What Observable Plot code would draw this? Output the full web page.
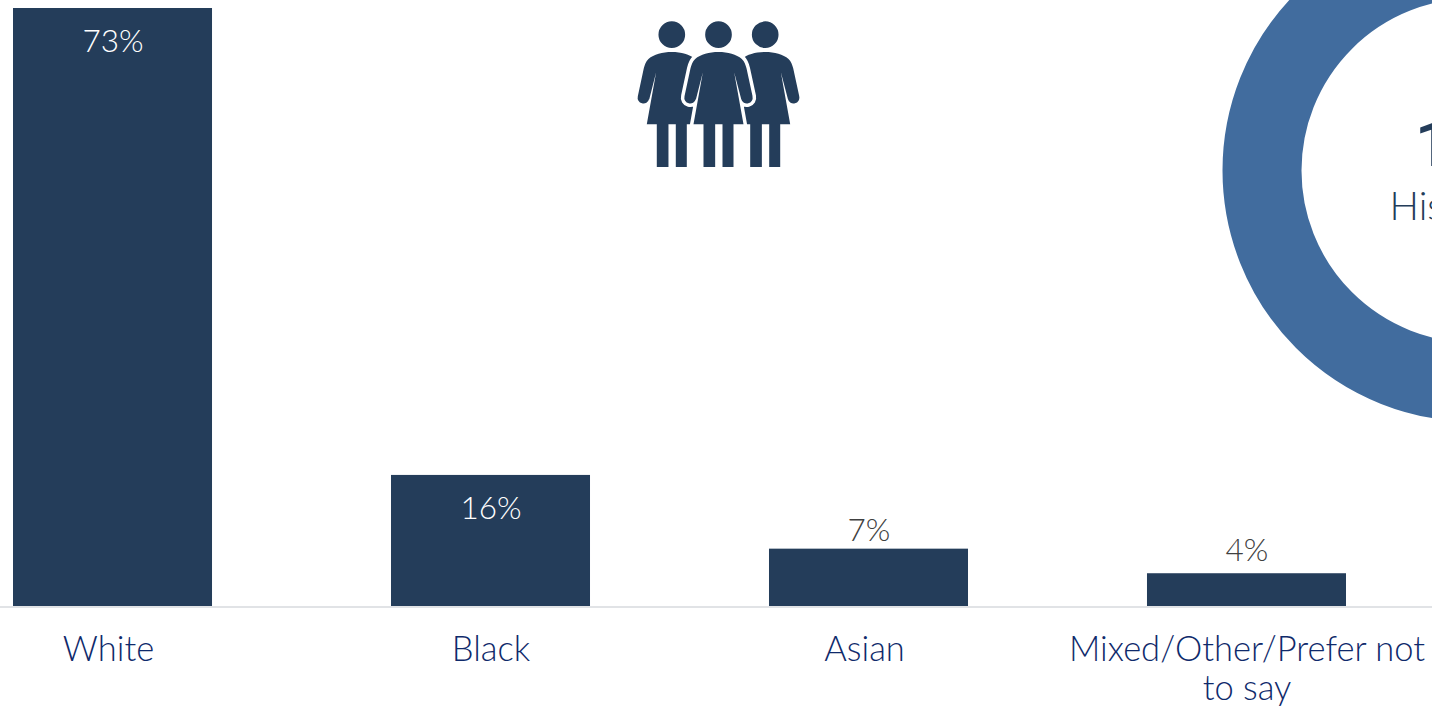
<!DOCTYPE html>
<html>
<head>
<meta charset="utf-8">
<script src="https://cdn.jsdelivr.net/npm/d3@7"></script>
<script src="https://cdn.jsdelivr.net/npm/@observablehq/plot@0.6"></script>
<style>
  html, body { margin: 0; padding: 0; background: #fff; overflow: hidden; }
  svg { display: block; }
</style>
</head>
<body>
<div id="chart"></div>
<script>
// Ethnicity breakdown, in percent
const categories = ["White", "Black", "Asian", "Mixed/Other/Prefer not\nto say"];
const shares = [73, 16, 7, 4];
const insideLabel = [true, true, false, false];
const ringLabels = ["1", "His"];

const rows = categories.map((category, i) => ({
  category,
  share: shares[i],
  inside: insideLabel[i]
}));

const navy = "#243d5a";
const ringBlue = "#416c9e";
const axisInk = "#0f2a6b";
const fontFamily = "Lato, 'Noto Sans', sans-serif";

// Pictogram of one figure, drawn around its own centre
const figure = {
  draw(context, size) {
    const k = Math.sqrt(size / Math.PI) / 219;
    const X = (x) => x * k;
    const Y = (y) => (y - 251) * k;
    context.moveTo(X(40), Y(73));
    context.arc(X(0), Y(73), 40 * k, 0, 2 * Math.PI);
    context.closePath();
    context.moveTo(X(0), Y(125));
    context.bezierCurveTo(X(28), Y(125), X(54), Y(132), X(70), Y(146));
    context.bezierCurveTo(X(78), Y(153), X(81), Y(163), X(84), Y(174));
    context.lineTo(X(102), Y(257));
    context.arc(X(85), Y(262), 17.5 * k, -0.25, Math.PI - 0.25);
    context.lineTo(X(47), Y(186));
    context.lineTo(X(75), Y(342));
    context.lineTo(X(45), Y(342));
    context.lineTo(X(45), Y(470));
    context.lineTo(X(12), Y(470));
    context.lineTo(X(12), Y(342));
    context.lineTo(X(-10), Y(342));
    context.lineTo(X(-10), Y(470));
    context.lineTo(X(-45), Y(470));
    context.lineTo(X(-45), Y(342));
    context.lineTo(X(-75), Y(342));
    context.lineTo(X(-47), Y(186));
    context.lineTo(X(-68), Y(268));
    context.arc(X(-85), Y(262), 17.5 * k, 0.25, Math.PI + 0.25);
    context.lineTo(X(-84), Y(174));
    context.bezierCurveTo(X(-81), Y(163), X(-78), Y(153), X(-70), Y(146));
    context.bezierCurveTo(X(-54), Y(132), X(-28), Y(125), X(0), Y(125));
    context.closePath();
  }
};

const figureMark = (offset, halo) =>
  Plot.dot([0], {
    frameAnchor: "top-left",
    dx: 718 + offset,
    dy: 93.5,
    r: 73,
    symbol: figure,
    fill: navy,
    stroke: halo ? "#fff" : "none",
    strokeWidth: halo ? 7 : 0,
    paintOrder: "stroke"
  });

const tickStyle = {
  anchor: "bottom",
  tickSize: 0,
  tickPadding: 26,
  fontSize: 34.5,
  lineHeight: 1.15,
  fill: axisInk,
  fontWeight: 300,
  tickFormat: (d) => d,
  label: null
};

// Value label above a short bar, with its own lift
const outsideLabel = (share, lift) =>
  Plot.text(rows.filter((d) => d.share === share), {
    x: "category",
    y: "share",
    text: (d) => `${d.share}%`,
    dy: -lift,
    fontSize: 31.5,
    fontWeight: 300,
    fill: "#404040"
  });

const chart = Plot.plot({
  width: 1432,
  height: 706,
  marginTop: 0,
  marginRight: 0,
  marginBottom: 100,
  marginLeft: 0,
  style: { fontFamily, background: "#fff" },
  x: {
    type: "band",
    domain: categories,
    range: [13, 1346],
    paddingInner: 0.4735,
    paddingOuter: 0,
    align: 0,
    round: false
  },
  y: { axis: null, domain: [0, 73], range: [606, 8] },
  marks: [
    // Hispanic ring, cut off by the right edge of the page
    Plot.dot([0], {
      frameAnchor: "top-left",
      dx: 1473,
      dy: 170,
      r: 211.5,
      fill: "none",
      stroke: ringBlue,
      strokeWidth: 79
    }),
    Plot.text([ringLabels[0]], {
      text: (d) => d,
      frameAnchor: "top-left",
      lineAnchor: "middle",
      dx: 1414.5,
      dy: 145,
      textAnchor: "start",
      fontFamily: "Roboto, sans-serif",
      fontSize: 63,
      fontWeight: 500,
      fill: navy
    }),
    Plot.text([ringLabels[1]], {
      text: (d) => d,
      frameAnchor: "top-left",
      lineAnchor: "middle",
      dx: 1389,
      dy: 207,
      textAnchor: "start",
      fontSize: 39,
      fontWeight: 300,
      fill: navy
    }),

    figureMark(-46.7, false),
    figureMark(46.7, false),
    figureMark(0, true),

    Plot.ruleY([0], { stroke: "#e1e3e6", strokeWidth: 2, dy: 0.5 }),
    Plot.barY(rows, { x: "category", y: "share", fill: navy }),

    Plot.text(rows.filter((d) => d.inside), {
      x: "category",
      y: "share",
      text: (d) => `${d.share}%`,
      dy: 33,
      fontSize: 31.5,
      fontWeight: 300,
      fill: "#fff"
    }),
    outsideLabel(7, 18),
    outsideLabel(4, 23),

    // Category labels sit under their bars, the first and third slightly left
    Plot.axisX({ ...tickStyle, ticks: [categories[0], categories[2]], dx: -4.5 }),
    Plot.axisX({ ...tickStyle, ticks: [categories[1], categories[3]] })
  ]
});

document.getElementById("chart").append(chart);
</script>
</body>
</html>
